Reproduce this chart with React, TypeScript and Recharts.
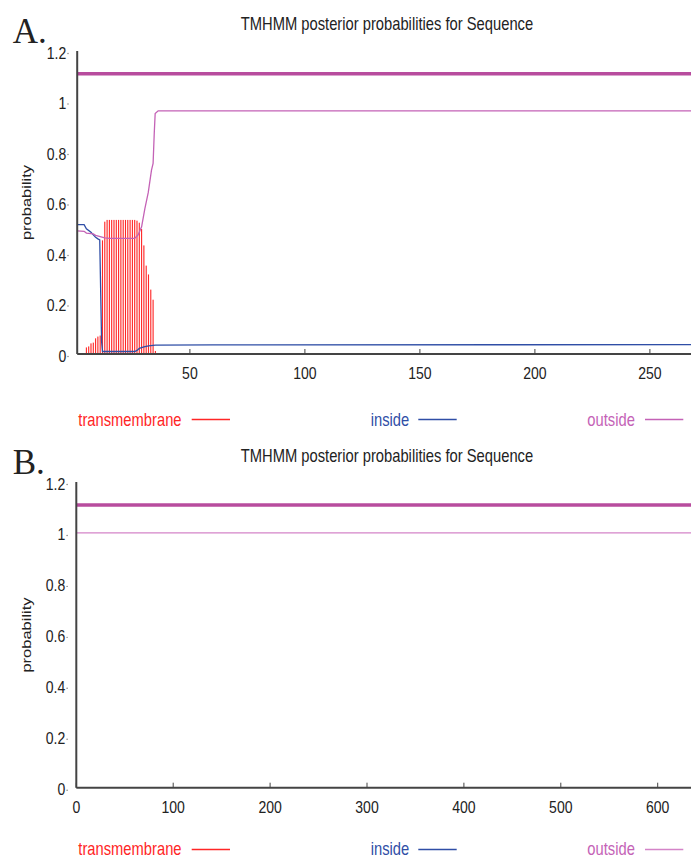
import React from 'react';
import { ComposedChart, Line, Bar, XAxis, YAxis } from 'recharts';

// ---------- data ----------
const titleText = 'TMHMM posterior probabilities for Sequence';
const legendNames = ['transmembrane', 'inside', 'outside'];
const yTicks = [0, 0.2, 0.4, 0.6, 0.8, 1, 1.2];
const xTicksA = [50, 100, 150, 200, 250];
const xTicksB = [0, 100, 200, 300, 400, 500, 600];
const xDomainA = [1, 270];
const xDomainB = [0, 650];

// panel A: transmembrane posterior per residue
const tmResA = [5, 6, 7, 8, 9, 10, 11, 12, 13, 14, 15, 16, 17, 18, 19, 20, 21, 22, 23, 24, 25, 26, 27, 28, 29, 30, 31, 32, 33, 34, 35];
const tmProbA = [0.026, 0.03, 0.042, 0.045, 0.062, 0.069, 0.073, 0.45, 0.524, 0.531, 0.531, 0.531, 0.531, 0.531, 0.531, 0.531, 0.531, 0.531, 0.531, 0.531, 0.531, 0.531, 0.528, 0.52, 0.495, 0.43, 0.35, 0.315, 0.255, 0.215, 0.012];

// panel A: inside posterior
const insideXA = [1, 4, 5, 7, 8, 9, 10, 10.8, 11.6, 12, 26, 27, 28, 30, 32, 35, 60, 270];
const insideYA = [0.512, 0.512, 0.496, 0.482, 0.472, 0.462, 0.456, 0.452, 0.05, 0.01, 0.01, 0.014, 0.022, 0.028, 0.032, 0.035, 0.036, 0.037];

// panel A: outside posterior
const outsideXA = [1, 4, 5, 8, 9, 11, 13, 15, 26, 27.5, 29, 30.4, 31.9, 33.3, 34, 34.5, 34.9, 36.2, 270];
const outsideYA = [0.488, 0.486, 0.479, 0.476, 0.47, 0.465, 0.46, 0.458, 0.458, 0.472, 0.504, 0.575, 0.64, 0.728, 0.755, 0.874, 0.952, 0.963, 0.963];

// predicted topology line
const topoY = 1.11;

// panel B
const insideXB = [0, 650];
const insideYB = [0, 0];
const outsideXB = [0, 650];
const outsideYB = [1, 1];

// ---------- tables built from arrays ----------
const tmDataA = tmResA.map((x, i) => ({ x, tm: tmProbA[i] }));
const insideA = insideXA.map((x, i) => ({ x, y: insideYA[i] }));
const outsideA = outsideXA.map((x, i) => ({ x, y: outsideYA[i] }));
const topoA = xDomainA.map((x) => ({ x, y: topoY }));
const insideB = insideXB.map((x, i) => ({ x, y: insideYB[i] }));
const outsideB = outsideXB.map((x, i) => ({ x, y: outsideYB[i] }));
const topoB = xDomainB.map((x) => ({ x, y: topoY }));

// ---------- styles ----------
const SANS = "'Liberation Sans', Arial, Helvetica, sans-serif";
const SERIF = "'Liberation Serif', 'Times New Roman', serif";
const RED = '#ff2626';
const PINK = '#f9b1b1';
const BLUE = '#2f4ea6';
const MAG = '#c462b6';
const MAG_LIGHT = '#d484c8';
const TOPO = '#b84c9e';
const AXIS = '#444444';
const TXT = '#222222';

const YTick = (props: any) => {
  const { x, y, payload } = props;
  return (
    <g transform={`translate(${x},${y + 7.5})`}>
      <text transform="scale(0.85,1)" textAnchor="end" fontSize={16.5} fontFamily={SANS} fill={TXT}>
        {String(payload.value)}
      </text>
      <circle cx={1.8} cy={-5} r={0.7} fill="#777" />
    </g>
  );
};

const XTick = (props: any) => {
  const { x, y, payload } = props;
  return (
    <g transform={`translate(${x},${y + 25})`}>
      <text transform="scale(0.85,1)" textAnchor="middle" fontSize={16.5} fontFamily={SANS} fill={TXT}>
        {String(payload.value)}
      </text>
    </g>
  );
};

const EmptyTick = () => <g />;

const TmShape = (props: any) => {
  const { x, y, width, height } = props;
  if (!height || height <= 0) return <g />;
  return (
    <g>
      <rect x={x} y={y} width={width} height={height} fill={PINK} />
      <rect x={x + width / 2 - 0.55} y={y} width={1.1} height={height} fill={RED} />
    </g>
  );
};

type PanelProps = {
  top: number;
  margin: { top: number; right: number; bottom: number; left: number };
  domain: number[];
  ticks: number[];
  tm?: any[];
  inside: any[];
  outside: any[];
  topo: any[];
  outsideColor: string;
};

const Panel = ({ top, margin, domain, ticks, tm, inside, outside, topo, outsideColor }: PanelProps) => (
  <div style={{ position: 'absolute', left: 0, top }}>
    <ComposedChart width={720} height={420} data={tm || []} margin={margin}>
      <XAxis
        xAxisId="top"
        orientation="top"
        type="number"
        dataKey="x"
        domain={domain}
        ticks={ticks}
        interval={0}
        height={0}
        tickSize={-5}
        tick={EmptyTick}
        tickLine={{ stroke: '#222', strokeWidth: 1 }}
        axisLine={{ stroke: '#222', strokeWidth: 1.2 }}
        allowDataOverflow
      />
      <XAxis
        xAxisId="bottom"
        orientation="bottom"
        type="number"
        dataKey="x"
        domain={domain}
        ticks={ticks}
        interval={0}
        height={30}
        tickSize={-5}
        tickMargin={5}
        tick={<XTick />}
        tickLine={{ stroke: AXIS, strokeWidth: 1 }}
        axisLine={{ stroke: AXIS, strokeWidth: 2 }}
        allowDataOverflow
      />
      <YAxis
        type="number"
        domain={[0, 1.2]}
        ticks={yTicks}
        interval={0}
        width={40}
        tickSize={0}
        tickMargin={11}
        tickLine={false}
        tick={<YTick />}
        axisLine={{ stroke: AXIS, strokeWidth: 2 }}
        allowDataOverflow
      />
      {tm && (
        <Bar
          xAxisId="bottom"
          dataKey="tm"
          barSize={2.3}
          fill={PINK}
          shape={<TmShape />}
          isAnimationActive={false}
        />
      )}
      <Line
        xAxisId="bottom"
        data={inside}
        dataKey="y"
        type="linear"
        stroke={BLUE}
        strokeWidth={1.3}
        dot={false}
        activeDot={false}
        isAnimationActive={false}
      />
      <Line
        xAxisId="bottom"
        data={outside}
        dataKey="y"
        type="linear"
        stroke={outsideColor}
        strokeWidth={1.3}
        dot={false}
        activeDot={false}
        isAnimationActive={false}
      />
      <Line
        xAxisId="bottom"
        data={topo}
        dataKey="y"
        type="linear"
        stroke={TOPO}
        strokeWidth={3.5}
        dot={false}
        activeDot={false}
        isAnimationActive={false}
      />
    </ComposedChart>
  </div>
);

const legendColors = [RED, BLUE, MAG];
const legendTextX = [78.3, 370.7, 587.3];
const legendLineX = [
  [191.7, 230],
  [418.3, 456.7],
  [645, 683.3],
];

const Legend = ({ baseline, lineY, outsideLine }: { baseline: number; lineY: number; outsideLine: string }) => (
  <g>
    {legendNames.map((name, i) => (
      <g key={name}>
        <text
          transform={`translate(${legendTextX[i]},${baseline}) scale(0.82,1)`}
          fontSize={18}
          fontFamily={SANS}
          fill={legendColors[i]}
        >
          {name}
        </text>
        <line
          x1={legendLineX[i][0]}
          x2={legendLineX[i][1]}
          y1={lineY}
          y2={lineY}
          stroke={i === 2 ? outsideLine : legendColors[i]}
          strokeWidth={1.3}
        />
      </g>
    ))}
  </g>
);

export default function App() {
  return (
    <div
      style={{
        position: 'absolute',
        left: 0,
        top: 0,
        width: 691,
        height: 859,
        overflow: 'hidden',
        background: '#ffffff',
      }}
    >
      <Panel
        top={0}
        margin={{ top: 51, right: 24.1, bottom: 36, left: 37.2 }}
        domain={xDomainA}
        ticks={xTicksA}
        tm={tmDataA}
        inside={insideA}
        outside={outsideA}
        topo={topoA}
        outsideColor={MAG}
      />
      <Panel
        top={420}
        margin={{ top: 62, right: 13.85, bottom: 22.3, left: 36.3 }}
        domain={xDomainB}
        ticks={xTicksB}
        inside={insideB}
        outside={outsideB}
        topo={topoB}
        outsideColor={MAG_LIGHT}
      />
      <svg
        width={691}
        height={859}
        style={{ position: 'absolute', left: 0, top: 0, pointerEvents: 'none' }}
      >
        <text x={12.7} y={43.3} fontSize={35} fontFamily={SERIF} fill={TXT}>
          A.
        </text>
        <text x={12.7} y={474} fontSize={35} fontFamily={SERIF} fill={TXT}>
          B.
        </text>
        <text transform="translate(240.7,30) scale(0.82,1)" fontSize={18} fontFamily={SANS} fill={TXT}>
          {titleText}
        </text>
        <text transform="translate(240.7,461.7) scale(0.82,1)" fontSize={18} fontFamily={SANS} fill={TXT}>
          {titleText}
        </text>
        <text
          transform="translate(31.3,202.5) scale(0.82,1) rotate(-90)"
          textAnchor="middle"
          fontSize={16.5}
          fontFamily={SANS}
          fill={TXT}
        >
          probability
        </text>
        <text
          transform="translate(31.3,635) scale(0.82,1) rotate(-90)"
          textAnchor="middle"
          fontSize={16.5}
          fontFamily={SANS}
          fill={TXT}
        >
          probability
        </text>
        <Legend baseline={426} lineY={419.5} outsideLine={MAG} />
        <Legend baseline={855} lineY={849.5} outsideLine={MAG_LIGHT} />
      </svg>
    </div>
  );
}
